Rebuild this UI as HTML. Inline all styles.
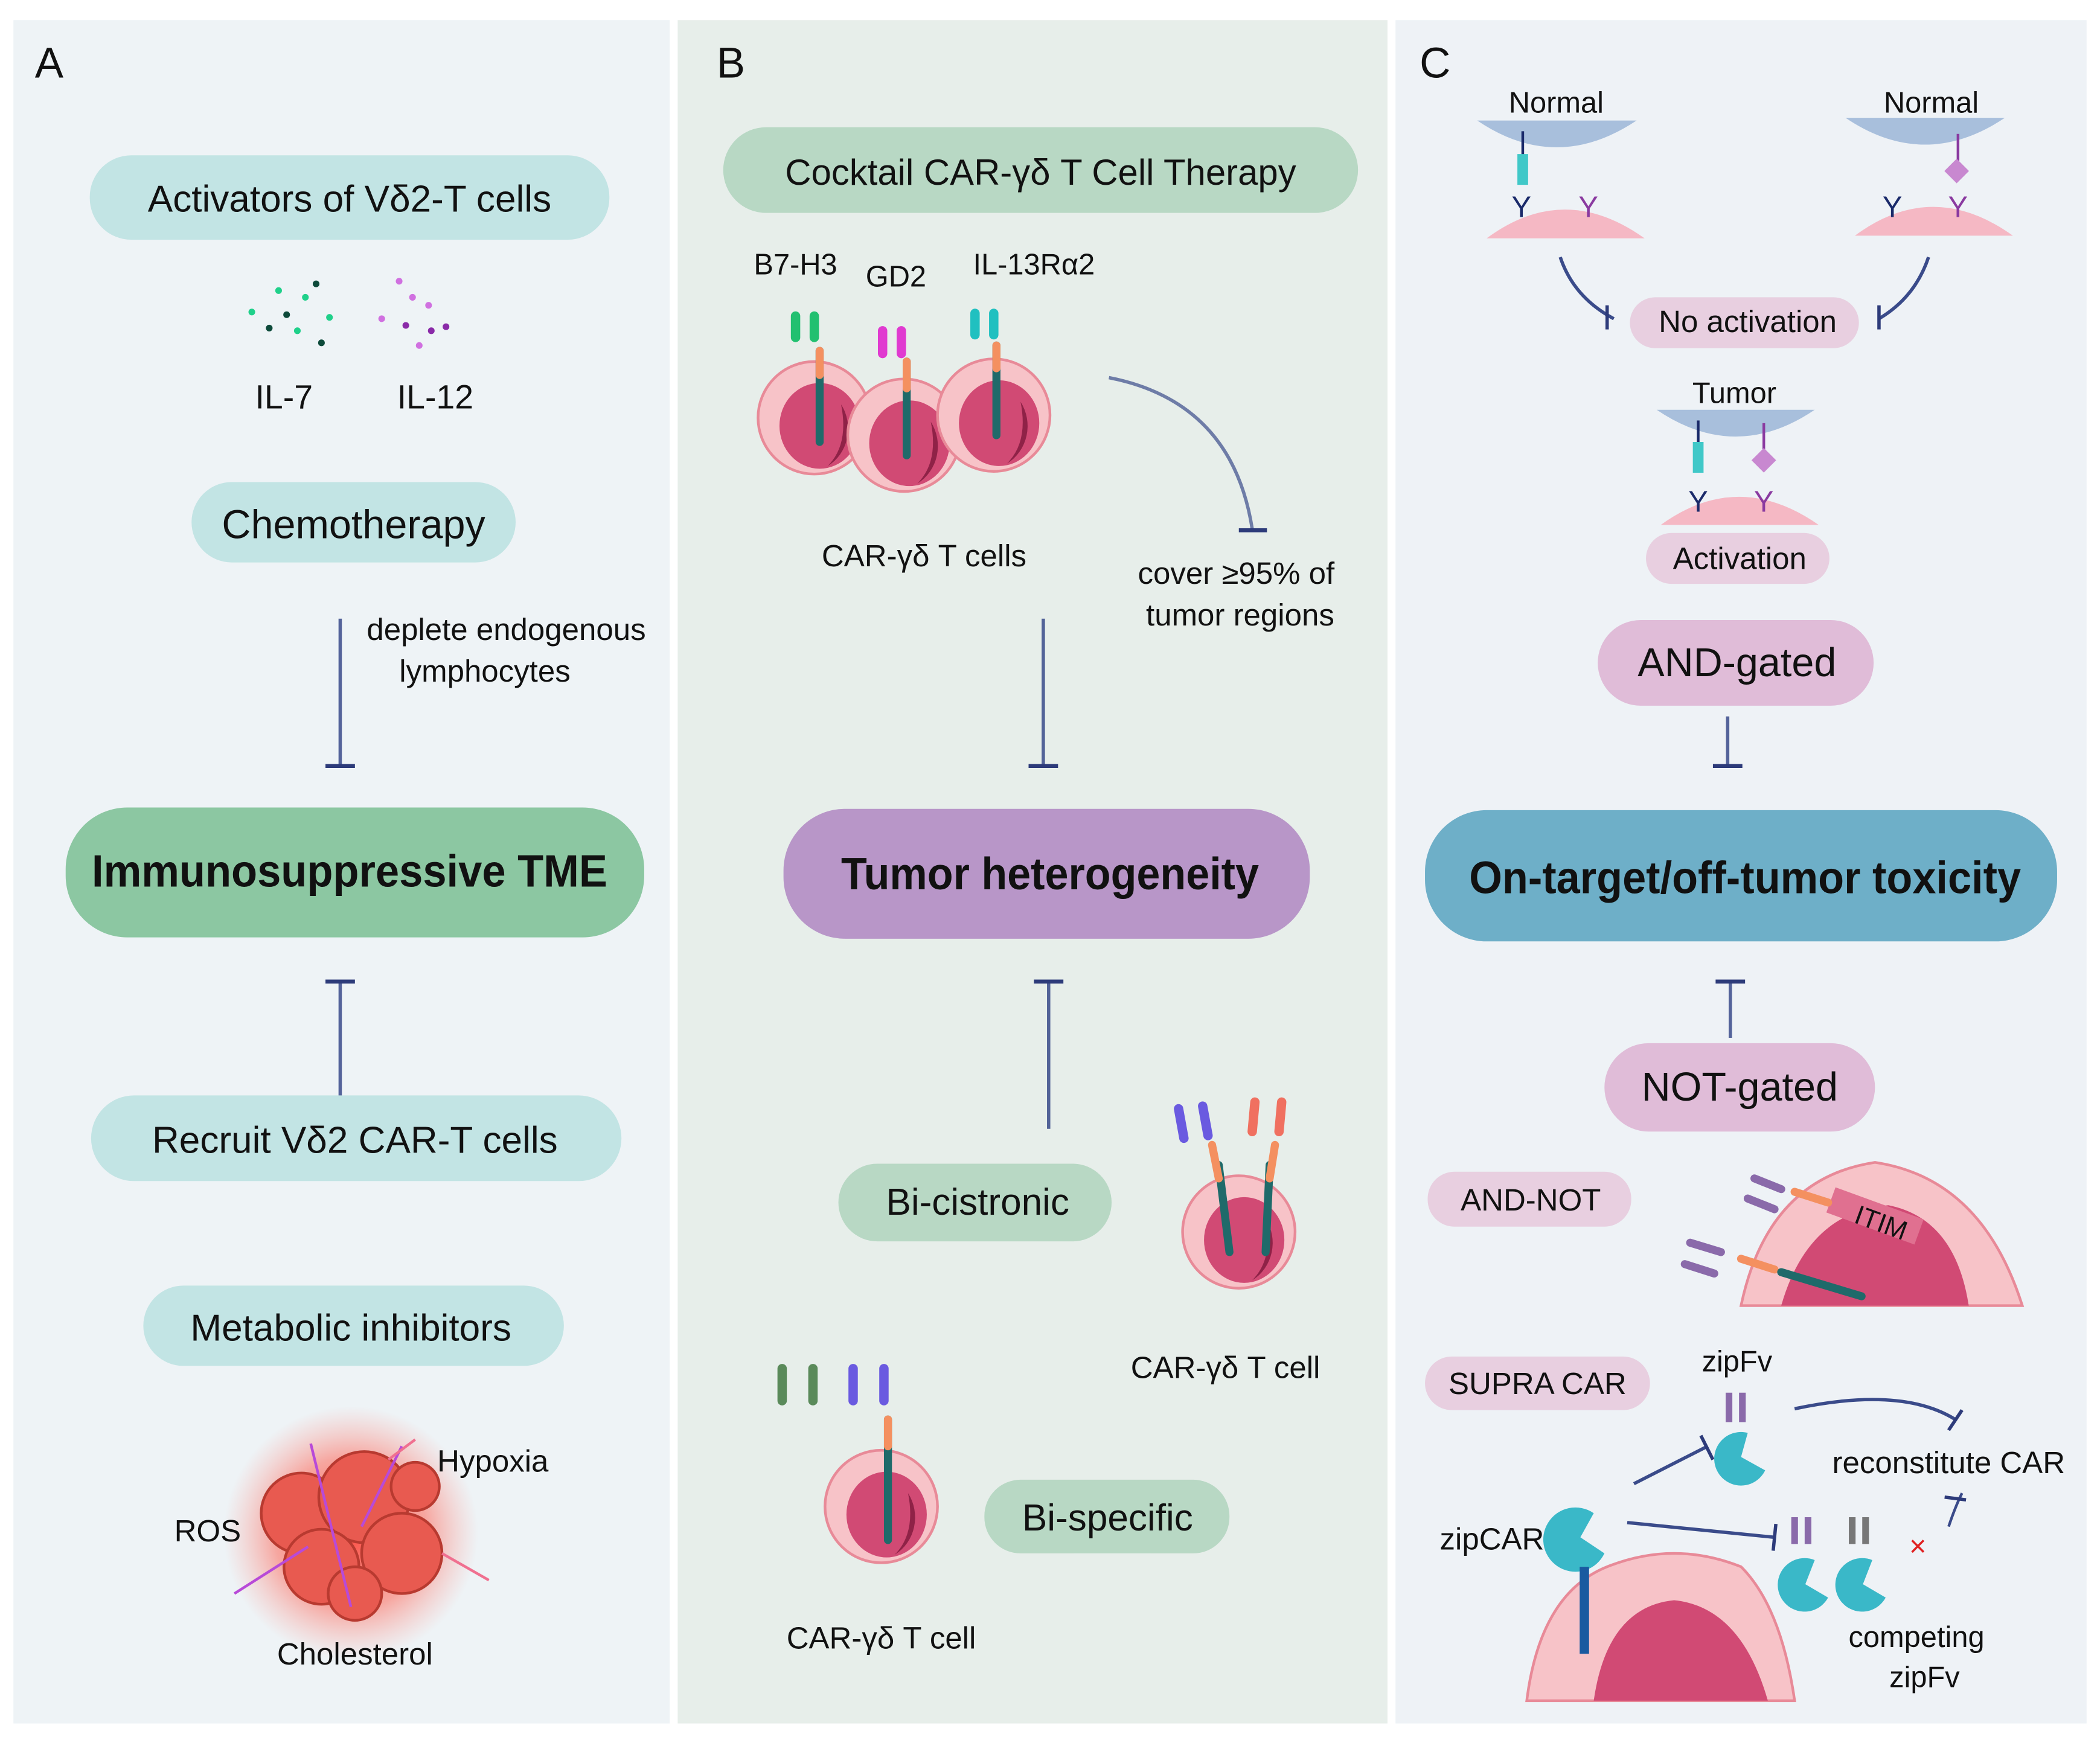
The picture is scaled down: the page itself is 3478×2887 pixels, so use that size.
<!DOCTYPE html>
<html><head><meta charset="utf-8"><style>
html,body{margin:0;padding:0;background:#fff;}
svg{display:block;}
text{font-family:"Liberation Sans",sans-serif;fill:#111;}
</style></head><body>
<svg width="3478" height="2887" viewBox="0 0 1568 1301.6" xmlns="http://www.w3.org/2000/svg">
<defs>
<radialGradient id="glow" cx="50%" cy="50%" r="50%"><stop offset="0" stop-color="#ff3b2f" stop-opacity="0.9"/><stop offset="0.6" stop-color="#ff5a4a" stop-opacity="0.5"/><stop offset="1" stop-color="#ff8a80" stop-opacity="0"/></radialGradient>
<g id="cell"><ellipse cx="0" cy="0" rx="42" ry="42" fill="#f7c3c8" stroke="#e88a98" stroke-width="2"/><ellipse cx="4" cy="6" rx="30" ry="32" fill="#d14a74"/><path d="M20 -10 A30 32 0 0 1 10 36 Q26 20 20 -10Z" fill="#8f2247"/></g>
<g id="tbar"><line x1="0" y1="0" x2="0" y2="-110" stroke="#3a4b8a" stroke-width="2.5" opacity="0.85"/><line x1="-11" y1="0" x2="11" y2="0" stroke="#2d3b7a" stroke-width="3"/></g>
</defs>
<rect width="1568" height="1302" fill="#fff"/>
<rect x="10" y="15" width="490" height="1272" fill="#eef3f6"/>
<rect x="506" y="15" width="530" height="1272" fill="#e7eeea"/>
<rect x="1042" y="15" width="516" height="1272" fill="#eef2f6"/>
<text x="26" y="58" font-size="32">A</text>
<text x="535" y="58" font-size="32">B</text>
<text x="1060" y="58" font-size="32">C</text>

<!-- Panel A -->
<rect x="67" y="116" width="388" height="63" rx="31" fill="#c2e4e4"/>
<text x="261" y="158" font-size="28" text-anchor="middle">Activators of Vδ2-T cells</text>
<g fill="#1fd08a"><circle cx="188" cy="233" r="2.5"/><circle cx="208" cy="217" r="2.5"/><circle cx="222" cy="247" r="2.5"/><circle cx="246" cy="237" r="2.5"/><circle cx="228" cy="222" r="2.5"/></g>
<g fill="#0d4a3a"><circle cx="236" cy="212" r="2.5"/><circle cx="214" cy="235" r="2.5"/><circle cx="201" cy="245" r="2.5"/><circle cx="240" cy="256" r="2.5"/></g>
<g fill="#d070e0"><circle cx="298" cy="210" r="2.5"/><circle cx="285" cy="238" r="2.5"/><circle cx="320" cy="228" r="2.5"/><circle cx="313" cy="258" r="2.5"/><circle cx="308" cy="222" r="2.5"/></g>
<g fill="#8a2aa8"><circle cx="303" cy="243" r="2.5"/><circle cx="333" cy="244" r="2.5"/><circle cx="322" cy="247" r="2.5"/></g>
<text x="212" y="305" font-size="25" text-anchor="middle">IL-7</text>
<text x="325" y="305" font-size="25" text-anchor="middle">IL-12</text>
<rect x="143" y="360" width="242" height="60" rx="30" fill="#c2e4e4"/>
<text x="264" y="402" font-size="30" text-anchor="middle">Chemotherapy</text>
<use href="#tbar" x="254" y="572"/>
<text x="378" y="478" font-size="23" text-anchor="middle">deplete endogenous</text>
<text x="362" y="509" font-size="23" text-anchor="middle">lymphocytes</text>
<rect x="49" y="603" width="432" height="97" rx="46" fill="#8cc7a2"/>
<text x="261" y="662" font-size="34" font-weight="bold" text-anchor="middle" textLength="385" lengthAdjust="spacingAndGlyphs">Immunosuppressive TME</text>
<use href="#tbar" x="254" y="733" transform="rotate(180 254 733)"/>
<rect x="68" y="818" width="396" height="64" rx="32" fill="#c2e4e4"/>
<text x="265" y="861" font-size="28" text-anchor="middle">Recruit Vδ2 CAR-T cells</text>
<rect x="107" y="960" width="314" height="60" rx="30" fill="#c2e4e4"/>
<text x="262" y="1001" font-size="28" text-anchor="middle">Metabolic inhibitors</text>
<circle cx="262" cy="1145" r="95" fill="url(#glow)"/>
<g fill="#e85a50" stroke="#b83a30" stroke-width="2"><circle cx="225" cy="1130" r="30"/><circle cx="272" cy="1118" r="34"/><circle cx="300" cy="1160" r="30"/><circle cx="240" cy="1170" r="28"/><circle cx="310" cy="1110" r="18"/><circle cx="265" cy="1190" r="20"/></g>
<g stroke="#b84ad8" stroke-width="2"><line x1="232" y1="1078" x2="262" y2="1200"/><line x1="175" y1="1190" x2="230" y2="1155"/><line x1="300" y1="1080" x2="270" y2="1140"/></g>
<g stroke="#f07090" stroke-width="2"><line x1="330" y1="1160" x2="365" y2="1180"/><line x1="290" y1="1090" x2="310" y2="1075"/></g>
<text x="368" y="1099" font-size="23" text-anchor="middle">Hypoxia</text>
<text x="155" y="1151" font-size="23" text-anchor="middle">ROS</text>
<text x="265" y="1243" font-size="23" text-anchor="middle">Cholesterol</text>

<!-- Panel B -->
<rect x="540" y="95" width="474" height="64" rx="32" fill="#b8d8c4"/>
<text x="777" y="138" font-size="27" text-anchor="middle">Cocktail CAR-γδ T Cell Therapy</text>
<text x="594" y="205" font-size="22" text-anchor="middle">B7-H3</text>
<text x="669" y="214" font-size="22" text-anchor="middle">GD2</text>
<text x="772" y="205" font-size="22" text-anchor="middle">IL-13Rα2</text>
<use href="#cell" x="608" y="312"/><use href="#cell" x="675" y="325"/><use href="#cell" x="742" y="310"/>
<g stroke-linecap="round"><line x1="612" y1="262" x2="612" y2="330" stroke="#1f6a6a" stroke-width="6"/><line x1="612" y1="262" x2="612" y2="280" stroke="#f49060" stroke-width="6"/>
<line x1="677" y1="270" x2="677" y2="340" stroke="#1f6a6a" stroke-width="6"/><line x1="677" y1="270" x2="677" y2="290" stroke="#f49060" stroke-width="6"/>
<line x1="744" y1="258" x2="744" y2="325" stroke="#1f6a6a" stroke-width="6"/><line x1="744" y1="258" x2="744" y2="275" stroke="#f49060" stroke-width="6"/>
<line x1="594" y1="236" x2="594" y2="252" stroke="#22c070" stroke-width="7"/><line x1="608" y1="236" x2="608" y2="252" stroke="#22c070" stroke-width="7"/>
<line x1="659" y1="247" x2="659" y2="264" stroke="#e03ad0" stroke-width="7"/><line x1="673" y1="247" x2="673" y2="264" stroke="#e03ad0" stroke-width="7"/>
<line x1="728" y1="234" x2="728" y2="250" stroke="#20c0c0" stroke-width="7"/><line x1="742" y1="234" x2="742" y2="250" stroke="#20c0c0" stroke-width="7"/></g>
<text x="690" y="423" font-size="23" text-anchor="middle">CAR-γδ T cells</text>
<path d="M828 282 Q920 300 935 395" fill="none" stroke="#3a4b8a" stroke-width="2.5" opacity="0.7"/>
<line x1="925" y1="396" x2="946" y2="396" stroke="#2d3b7a" stroke-width="3"/>
<text x="923" y="436" font-size="23" text-anchor="middle">cover ≥95% of</text>
<text x="926" y="467" font-size="23" text-anchor="middle">tumor regions</text>
<use href="#tbar" x="779" y="572"/>
<rect x="585" y="604" width="393" height="97" rx="46" fill="#b896c8"/>
<text x="784" y="664" font-size="34" font-weight="bold" text-anchor="middle" textLength="312" lengthAdjust="spacingAndGlyphs">Tumor heterogeneity</text>
<use href="#tbar" x="783" y="733" transform="rotate(180 783 733)"/>
<rect x="626" y="869" width="204" height="58" rx="29" fill="#b8d8c4"/>
<text x="730" y="907" font-size="28" text-anchor="middle">Bi-cistronic</text>
<use href="#cell" x="925" y="920"/>
<g stroke-linecap="round"><line x1="910" y1="870" x2="918" y2="935" stroke="#1f6a6a" stroke-width="6"/><line x1="948" y1="870" x2="945" y2="935" stroke="#1f6a6a" stroke-width="6"/><line x1="905" y1="855" x2="910" y2="880" stroke="#f49060" stroke-width="6"/><line x1="952" y1="855" x2="948" y2="880" stroke="#f49060" stroke-width="6"/>
<line x1="880" y1="828" x2="884" y2="850" stroke="#6a5ae0" stroke-width="7"/><line x1="898" y1="826" x2="902" y2="848" stroke="#6a5ae0" stroke-width="7"/>
<line x1="937" y1="823" x2="935" y2="845" stroke="#f07060" stroke-width="7"/><line x1="957" y1="823" x2="955" y2="845" stroke="#f07060" stroke-width="7"/></g>
<text x="915" y="1029" font-size="23" text-anchor="middle">CAR-γδ T cell</text>
<use href="#cell" x="658" y="1125"/>
<g stroke-linecap="round"><line x1="663" y1="1060" x2="663" y2="1150" stroke="#1f6a6a" stroke-width="6"/><line x1="663" y1="1060" x2="663" y2="1080" stroke="#f49060" stroke-width="6"/>
<line x1="584" y1="1022" x2="584" y2="1046" stroke="#5a8a5a" stroke-width="7"/><line x1="607" y1="1022" x2="607" y2="1046" stroke="#5a8a5a" stroke-width="7"/><line x1="637" y1="1022" x2="637" y2="1046" stroke="#6a5ae0" stroke-width="7"/><line x1="660" y1="1022" x2="660" y2="1046" stroke="#6a5ae0" stroke-width="7"/></g>
<text x="658" y="1231" font-size="23" text-anchor="middle">CAR-γδ T cell</text>
<rect x="735" y="1105" width="183" height="55" rx="27" fill="#b8d8c4"/>
<text x="827" y="1143" font-size="28" text-anchor="middle">Bi-specific</text>

<!-- Panel C -->
<text x="1162" y="84" font-size="22" text-anchor="middle">Normal</text>
<text x="1442" y="84" font-size="22" text-anchor="middle">Normal</text>
<path d="M1103 90 Q1162 130 1222 90Z" fill="#a8bfdc"/><path d="M1378 88 Q1437 128 1497 88Z" fill="#a8bfdc"/>
<path d="M1110 178 Q1168 135 1228 178Z" fill="#f5b8c4"/><path d="M1385 176 Q1443 133 1503 176Z" fill="#f5b8c4"/>
<line x1="1137" y1="98" x2="1137" y2="116" stroke="#1a2a6a" stroke-width="2"/>
<line x1="1137" y1="115" x2="1137" y2="138" stroke="#40c8c8" stroke-width="8"/>
<line x1="1462" y1="100" x2="1462" y2="120" stroke="#8a3aa0" stroke-width="2"/><rect x="1455" y="121" width="13" height="13" fill="#c888d0" transform="rotate(45 1461 127)"/>
<text x="1136" y="162" font-size="22" text-anchor="middle" style="fill:#1a2a6a">Y</text><text x="1186" y="162" font-size="22" text-anchor="middle" style="fill:#8a3aa0">Y</text>
<text x="1413" y="162" font-size="22" text-anchor="middle" style="fill:#1a2a6a">Y</text><text x="1462" y="162" font-size="22" text-anchor="middle" style="fill:#8a3aa0">Y</text>
<path d="M1165 192 Q1175 222 1205 238" fill="none" stroke="#3a4b8a" stroke-width="2.5"/><line x1="1200" y1="228" x2="1200" y2="246" stroke="#2d3b7a" stroke-width="2.5"/>
<path d="M1440 192 Q1430 222 1403 238" fill="none" stroke="#3a4b8a" stroke-width="2.5"/><line x1="1403" y1="228" x2="1403" y2="246" stroke="#2d3b7a" stroke-width="2.5"/>
<rect x="1217" y="222" width="171" height="38" rx="19" fill="#e8cfe0"/>
<text x="1305" y="248" font-size="23" text-anchor="middle">No activation</text>
<text x="1295" y="301" font-size="22" text-anchor="middle">Tumor</text>
<path d="M1237 306 Q1296 346 1355 306Z" fill="#a8bfdc"/>
<path d="M1240 392 Q1298 350 1358 392Z" fill="#f5b8c4"/>
<line x1="1268" y1="314" x2="1268" y2="332" stroke="#1a2a6a" stroke-width="2"/>
<line x1="1268" y1="330" x2="1268" y2="353" stroke="#40c8c8" stroke-width="8"/>
<line x1="1317" y1="316" x2="1317" y2="336" stroke="#8a3aa0" stroke-width="2"/><rect x="1311" y="337" width="13" height="13" fill="#c888d0" transform="rotate(45 1317 343)"/>
<text x="1268" y="382" font-size="22" text-anchor="middle" style="fill:#1a2a6a">Y</text><text x="1317" y="382" font-size="22" text-anchor="middle" style="fill:#8a3aa0">Y</text>
<rect x="1229" y="398" width="137" height="38" rx="19" fill="#e8cfe0"/>
<text x="1299" y="425" font-size="23" text-anchor="middle">Activation</text>
<rect x="1193" y="463" width="206" height="64" rx="32" fill="#e0bcd8"/>
<text x="1297" y="505" font-size="30" text-anchor="middle">AND-gated</text>
<line x1="1290" y1="535" x2="1290" y2="572" stroke="#3a4b8a" stroke-width="2.5" opacity="0.85"/><line x1="1279" y1="572" x2="1301" y2="572" stroke="#2d3b7a" stroke-width="3"/>
<rect x="1064" y="605" width="472" height="98" rx="46" fill="#6eafc8"/>
<text x="1303" y="667" font-size="34" font-weight="bold" text-anchor="middle" textLength="412" lengthAdjust="spacingAndGlyphs">On-target/off-tumor toxicity</text>
<line x1="1292" y1="733" x2="1292" y2="775" stroke="#3a4b8a" stroke-width="2.5" opacity="0.85"/><line x1="1281" y1="733" x2="1303" y2="733" stroke="#2d3b7a" stroke-width="3"/>
<rect x="1198" y="779" width="202" height="66" rx="33" fill="#e0bcd8"/>
<text x="1299" y="822" font-size="30" text-anchor="middle">NOT-gated</text>
<rect x="1066" y="875" width="152" height="41" rx="20" fill="#e8cfe0"/>
<text x="1143" y="904" font-size="23" text-anchor="middle">AND-NOT</text>
<path d="M1300 975 Q1320 880 1400 868 Q1480 880 1510 975Z" fill="#f7c3c8" stroke="#e88a98" stroke-width="2"/>
<path d="M1330 975 Q1350 905 1410 900 Q1460 910 1470 975Z" fill="#d14a74"/>
<rect x="1365" y="898" width="70" height="20" fill="#e07090" transform="rotate(20 1400 908)"/>
<text x="1405" y="920" font-size="20" text-anchor="middle" transform="rotate(20 1405 912)">ITIM</text>
<g stroke-linecap="round" stroke-width="6"><line x1="1310" y1="880" x2="1330" y2="888" stroke="#8a6aaa"/><line x1="1305" y1="895" x2="1325" y2="903" stroke="#8a6aaa"/><line x1="1340" y1="890" x2="1365" y2="898" stroke="#f49060"/>
<line x1="1262" y1="928" x2="1285" y2="935" stroke="#8a6aaa"/><line x1="1258" y1="944" x2="1280" y2="951" stroke="#8a6aaa"/><line x1="1300" y1="940" x2="1325" y2="948" stroke="#f49060"/><line x1="1330" y1="950" x2="1390" y2="968" stroke="#1f6a6a"/></g>
<rect x="1064" y="1013" width="168" height="40" rx="20" fill="#e8cfe0"/>
<text x="1148" y="1041" font-size="23" text-anchor="middle">SUPRA CAR</text>
<text x="1297" y="1024" font-size="22" text-anchor="middle">zipFv</text>
<line x1="1291" y1="1040" x2="1291" y2="1062" stroke="#8a6aaa" stroke-width="5"/><line x1="1301" y1="1040" x2="1301" y2="1062" stroke="#8a6aaa" stroke-width="5"/>
<path d="M1305 1070 A20 20 0 1 0 1318 1098 L1300 1088Z" fill="#3ab8c8"/>
<path d="M1340 1052 Q1420 1035 1460 1060" fill="none" stroke="#3a4b8a" stroke-width="2.5"/><line x1="1455" y1="1068" x2="1465" y2="1053" stroke="#2d3b7a" stroke-width="2.5"/>
<text x="1455" y="1100" font-size="23" text-anchor="middle">reconstitute CAR</text>
<path d="M1220 1108 L1275 1080" fill="none" stroke="#3a4b8a" stroke-width="2.5"/><line x1="1270" y1="1072" x2="1279" y2="1090" stroke="#2d3b7a" stroke-width="2.5"/>
<path d="M1215 1137 L1325 1148" fill="none" stroke="#3a4b8a" stroke-width="2.5"/><line x1="1326" y1="1138" x2="1324" y2="1158" stroke="#2d3b7a" stroke-width="2.5"/>
<path d="M1455 1140 Q1460 1125 1465 1115" fill="none" stroke="#3a4b8a" stroke-width="2"/><line x1="1452" y1="1118" x2="1468" y2="1120" stroke="#2d3b7a" stroke-width="2.5"/>
<text x="1432" y="1162" font-size="22" text-anchor="middle" style="fill:#e02020">×</text>
<path d="M1140 1270 Q1150 1190 1200 1170 Q1250 1150 1300 1170 Q1330 1200 1340 1270Z" fill="#f7c3c8" stroke="#e88a98" stroke-width="2"/>
<path d="M1190 1270 Q1200 1200 1250 1195 Q1300 1200 1320 1270Z" fill="#d14a74"/>
<path d="M1190 1130 A24 24 0 1 0 1198 1160 L1180 1148Z" fill="#3ab8c8"/>
<line x1="1183" y1="1170" x2="1183" y2="1235" stroke="#1a5aa0" stroke-width="7"/>
<text x="1114" y="1157" font-size="23" text-anchor="middle">zipCAR</text>
<line x1="1340" y1="1133" x2="1340" y2="1153" stroke="#8a6aaa" stroke-width="5"/><line x1="1350" y1="1133" x2="1350" y2="1153" stroke="#8a6aaa" stroke-width="5"/>
<line x1="1383" y1="1133" x2="1383" y2="1153" stroke="#777" stroke-width="5"/><line x1="1393" y1="1133" x2="1393" y2="1153" stroke="#777" stroke-width="5"/>
<path d="M1355 1165 A20 20 0 1 0 1365 1193 L1348 1183Z" fill="#3ab8c8"/>
<path d="M1398 1165 A20 20 0 1 0 1408 1193 L1391 1183Z" fill="#3ab8c8"/>
<text x="1431" y="1230" font-size="22" text-anchor="middle">competing</text>
<text x="1437" y="1260" font-size="22" text-anchor="middle">zipFv</text>
</svg>
</body></html>
